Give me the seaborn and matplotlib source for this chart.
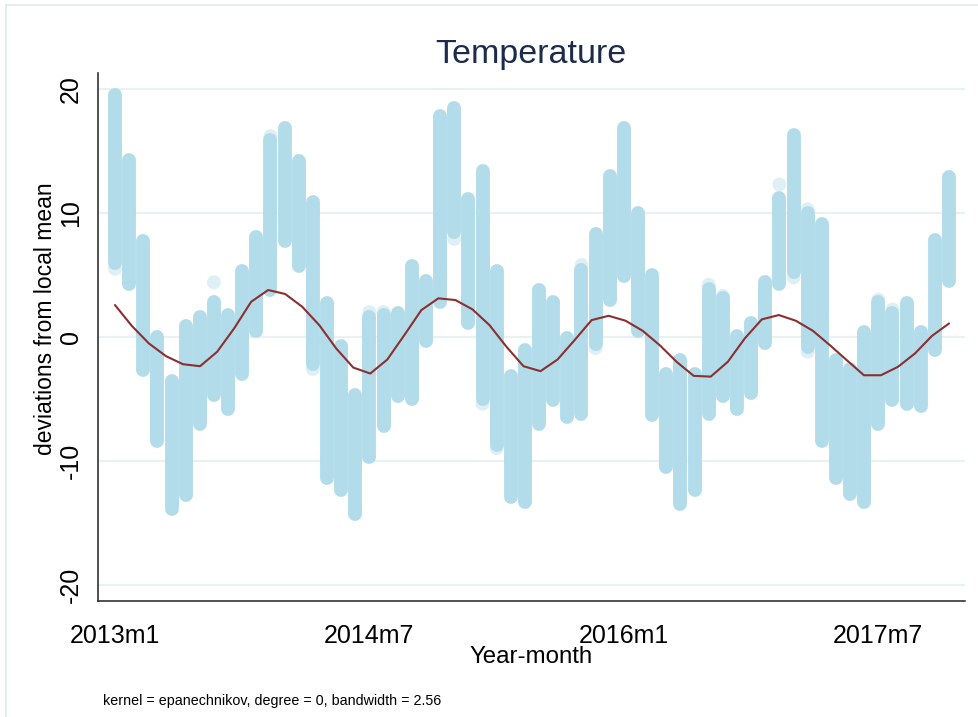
import numpy as np
import pandas as pd
import matplotlib
matplotlib.use("Agg")
import matplotlib.pyplot as plt
import seaborn as sns
from matplotlib.lines import Line2D

# ---------------- data ----------------
tick_months = [0, 18, 36, 54]
tick_labels = ["2013m1", "2014m7", "2016m1", "2017m7"]
y_ticks = [-20, -10, 0, 10, 20]

months = list(range(60))
strip_high = [19.5, 14.3, 7.7, 0.0, -3.6, 0.9, 1.6, 2.8, 1.8, 5.3,
              8.1, 15.9, 16.9, 14.2, 10.9, 2.7, -0.7, -4.7, 1.6, 1.8,
              1.9, 5.7, 4.5, 17.8, 18.5, 11.1, 13.4, 5.3, -3.2, -1.1,
              3.8, 2.8, -0.1, 5.4, 8.3, 13.0, 16.9, 10.0, 5.0, -3.0,
              -1.9, -3.0, 3.9, 3.1, 0.1, 1.1, 4.4, 11.2, 16.3, 10.0,
              9.1, -1.9, -2.6, 0.4, 2.8, 1.9, 2.7, 0.4, 7.8, 12.9]
strip_low = [6.0, 4.3, -2.7, -8.4, -13.9, -12.8, -7.0, -4.7, -5.8, -3.0,
             0.5, 3.8, 7.7, 5.7, -2.2, -11.4, -12.4, -14.3, -9.7, -7.2,
             -4.8, -5.0, -0.3, 2.8, 8.5, 1.1, -5.0, -8.7, -12.9, -13.3,
             -7.0, -5.1, -6.5, -6.2, -0.6, 3.0, 4.9, 0.5, -6.3, -10.5,
             -13.5, -12.4, -6.2, -4.8, -5.8, -4.5, -0.5, 4.3, 5.2, -0.8,
             -8.4, -11.4, -12.7, -13.3, -7.0, -5.1, -5.4, -5.6, -1.1, 4.5]

faint_month = [0, 7, 11, 14, 18, 19, 24, 26, 27, 33, 34, 42, 43, 47, 48, 49, 49, 54, 55]
faint_value = [5.5, 4.4, 16.2, -2.6, 2.0, 2.0, 7.9, -5.4, -9.0, 5.8, -0.9, 4.2, 3.3, 12.3, 4.8, 10.3, -1.2, 3.0, 2.2]

smooth_x = np.linspace(0, 59, 50)   # lpoly evaluation grid (50 points)
smooth_y = [2.57, 0.87, -0.54, -1.56, -2.21, -2.37, -1.21, 0.68, 2.83, 3.78,
            3.46, 2.43, 0.95, -0.94, -2.48, -2.96, -1.83, 0.14, 2.16, 3.11,
            2.97, 2.22, 0.95, -0.80, -2.37, -2.77, -1.83, -0.27, 1.35, 1.70,
            1.30, 0.49, -0.67, -2.02, -3.15, -3.21, -2.02, -0.13, 1.41, 1.76,
            1.30, 0.49, -0.67, -1.89, -3.10, -3.10, -2.42, -1.34, 0.08, 1.08]

# ---------------- style ----------------
sns.set_style("white")
plt.rcParams["font.family"] = ["Liberation Sans", "DejaVu Sans"]

W, H = 979, 717
fig = plt.figure(figsize=(W / 100, H / 100), dpi=100)
fig.patch.set_facecolor("white")

ax_l, ax_r, ax_t, ax_b = 98, 965, 73, 600.7
ax = fig.add_axes([ax_l / W, 1 - ax_b / H, (ax_r - ax_l) / W, (ax_b - ax_t) / H])

strip_color = "#b2dcea"
faint_color = "#deeff5"
line_color = "#8b2f2f"
marker_pt = 10.0

strips = pd.DataFrame({
    "month": months + months,
    "value": strip_low + strip_high,
})
faint = pd.DataFrame({"month": faint_month, "value": faint_value})
smooth = pd.DataFrame({"month": smooth_x, "value": smooth_y})

sns.scatterplot(data=faint, x="month", y="value", s=marker_pt ** 2,
                color=faint_color, edgecolor="none", ax=ax, zorder=2, legend=False)
n_before = len(ax.lines)
sns.lineplot(data=strips, x="month", y="value", units="month", estimator=None,
             sort=False, color=strip_color, linewidth=marker_pt,
             solid_capstyle="round", ax=ax, zorder=3, legend=False)
for ln in ax.lines[n_before:]:
    ln.set_linewidth(marker_pt)
    ln.set_solid_capstyle("round")
sns.lineplot(data=smooth, x="month", y="value", color=line_color,
             linewidth=1.5, ax=ax, zorder=4, legend=False)

ax.set_xlim(-1.2, 60.13)
ax.set_ylim(-21.3, 21.3)

ax.set_xticks(tick_months)
ax.set_xticklabels(tick_labels, fontsize=18)
ax.set_yticks(y_ticks)
ax.set_yticklabels([str(v) for v in y_ticks], fontsize=18, rotation=90, va="center")

ax.tick_params(axis="x", length=9, width=1.2, color="#333333", pad=8, labelcolor="black", direction="out")
ax.tick_params(axis="y", length=8, width=1.2, color="#333333", pad=3, labelcolor="black", direction="out")

ax.yaxis.grid(True, color="#e9f1f3", linewidth=1.6)
ax.xaxis.grid(False)
ax.set_axisbelow(True)

for s in ["top", "right"]:
    ax.spines[s].set_visible(False)
for s in ["left", "bottom"]:
    ax.spines[s].set_color("#333333")
    ax.spines[s].set_linewidth(1.2)

ax.set_xlabel("Year-month", fontsize=17.3, color="black")
ax.xaxis.set_label_coords(0.5, (ax_b - 663) / (ax_b - ax_t))
ax.xaxis.label.set_va("baseline")
ax.set_ylabel("deviations from local mean", fontsize=16.5, color="black")
ax.yaxis.set_label_coords((45 - ax_l) / (ax_r - ax_l), (ax_b - 319) / (ax_b - ax_t))
ax.yaxis.label.set_va("center")

fig.text(531 / W, 1 - 63 / H, "Temperature", ha="center", va="baseline",
         fontsize=24.5, color="#1c2b4a")
fig.text(103 / W, 1 - 705 / H, "kernel = epanechnikov, degree = 0, bandwidth = 2.56",
         ha="left", va="baseline", fontsize=10.3, color="black")

# light outer frame of the graph region
fig.add_artist(Line2D([6 / W, 1], [1 - 5 / H, 1 - 5 / H], color="#e3e9ed", linewidth=1.2))
fig.add_artist(Line2D([6 / W, 6 / W], [0, 1 - 5 / H], color="#e3e9ed", linewidth=1.2))

fig.savefig("out.png", dpi=100)
